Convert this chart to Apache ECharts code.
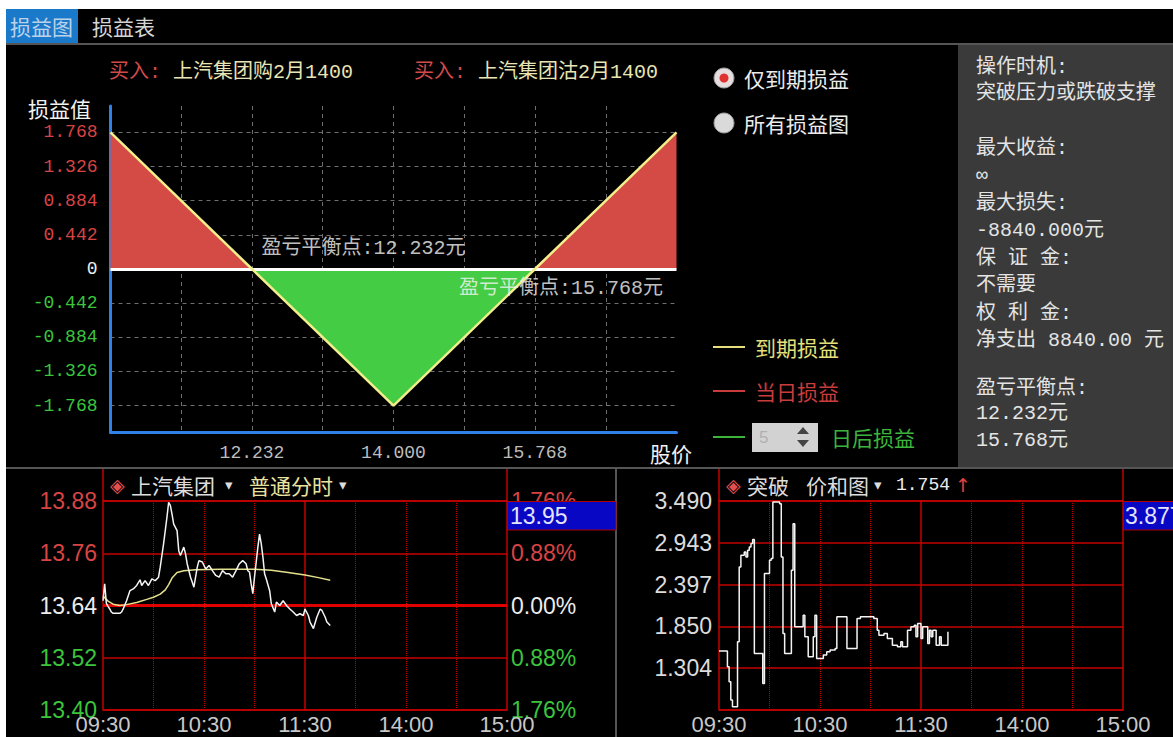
<!DOCTYPE html>
<html>
<head>
<meta charset="utf-8">
<script src="https://cdn.jsdelivr.net/npm/echarts@6.0.0/dist/echarts.min.js"></script>
<style>
html,body{margin:0;padding:0;background:#000;overflow:hidden;}
#c{position:absolute;left:0;top:0;width:1173px;height:737px;}
</style>
</head>
<body>
<div id="c"></div>
<script>
// ================= DATA =================
const payoffLegs = ['上汽集团购2月1400', '上汽集团沽2月1400'];
const payoffPrices = [10.464, 12.232, 14.000, 15.768, 17.536];
const payoffValues = [1.768, 0, -1.768, 0, 1.768];
const breakEvenPrices = [12.232, 15.768];
const payoffYTicks = [-1.768, -1.326, -0.884, -0.442, 0, 0.442, 0.884, 1.326, 1.768];
const payoffXGridTicks = [11.348, 12.232, 13.116, 14.000, 14.884, 15.768, 16.652];
const payoffXLabelTicks = [12.232, 14.000, 15.768];

const panelLines = ['操作时机:', '突破压力或跌破支撑', '最大收益:', '∞', '最大损失:', '-8840.000元',
  '保 证 金:', '不需要', '权 利 金:', '净支出 8840.00 元', '盈亏平衡点:', '12.232元', '15.768元'];

const timeLabelTicks = [0, 60, 120, 180, 240];
const timeLabels = ['09:30', '10:30', '11:30', '14:00', '15:00'];
const timeGridTicks = [30, 60, 90, 150, 180, 210];
const lunchBreakMinute = 120;

// [minute since 09:30, price]
const stockTicks = [
  [0,13.651],[1,13.690],[2,13.645],[3,13.638],[4,13.632],[5,13.625],[6,13.622],[8,13.622],[10,13.622],[11,13.625],
  [12,13.632],[14,13.651],[16,13.674],[18,13.678],[20,13.686],[22,13.699],[23,13.686],[25,13.697],[27,13.686],[29,13.701],
  [31,13.697],[33,13.705],[34,13.728],[36,13.782],[38,13.843],[39,13.877],[40,13.870],[41,13.850],[42,13.827],[44,13.812],
  [45,13.766],[46,13.755],[48,13.774],[49,13.759],[50,13.736],[52,13.705],[53,13.694],[54,13.682],[56,13.728],[57,13.743],
  [59,13.740],[61,13.724],[63,13.732],[65,13.720],[67,13.709],[69,13.705],[71,13.720],[73,13.713],[75,13.713],[77,13.705],
  [79,13.720],[81,13.736],[83,13.743],[85,13.736],[86,13.720],[87,13.717],[88,13.690],[89,13.667],[90,13.705],[92,13.774],
  [93,13.804],[94,13.782],[95,13.751],[96,13.713],[97,13.701],[99,13.674],[100,13.644],[102,13.625],[103,13.648],[105,13.640],
  [107,13.651],[109,13.640],[111,13.632],[113,13.625],[115,13.617],[117,13.621],[119,13.617],[120,13.632],[122,13.617],[123,13.602],
  [125,13.587],[127,13.613],[129,13.632],[130,13.629],[132,13.613],[133,13.602],[135,13.594]
];
const stockAvgTicks = [
  [0,13.662],[3,13.650],[6,13.643],[10,13.640],[14,13.642],[20,13.647],[26,13.654],[30,13.659],[34,13.666],[37,13.676],
  [39,13.688],[41,13.703],[44,13.716],[48,13.720],[55,13.722],[70,13.723],[90,13.723],[100,13.721],[110,13.716],[120,13.710],
  [128,13.704],[135,13.698]
];
const stockPriceTicks = [13.40, 13.52, 13.64, 13.76, 13.88];
const stockPctLabels = ['1.76%', '0.88%', '0.00%', '0.88%', '1.76%'];
const prevClose = 13.64;
const stockName = '上汽集团';
const stockChartType = '普通分时';
const stockCursorPrice = '13.95';

// [minute since 09:30, value]
const spreadTicks = [
  [0,1.527],[5,1.322],[6,1.126],[7,0.887],[8,0.800],[11,1.649],[12,2.628],[13,2.780],[15,2.824],[16,2.759],
  [17,2.846],[18,2.889],[19,2.933],[20,2.985],[21,1.496],[26,1.105],[27,2.541],[30,2.715],[31,2.737],[32,3.477],
  [36,3.455],[37,2.759],[38,1.757],[39,1.496],[43,2.585],[44,3.194],[45,1.845],[50,1.997],[51,1.714],[53,1.453],
  [56,1.714],[57,1.997],[58,1.431],[62,1.475],[64,1.518],[66,1.540],[69,1.562],[70,1.975],[76,1.562],[82,1.953],
  [84,1.975],[92,1.953],[94,1.801],[95,1.736],[98,1.757],[100,1.692],[103,1.605],[106,1.583],[108,1.649],[109,1.583],
  [112,1.801],[114,1.845],[116,1.866],[117,1.714],[118,1.888],[120,1.692],[121,1.845],[124,1.627],[125,1.801],[126,1.714],
  [127,1.801],[129,1.605],[131,1.714],[132,1.605],[136,1.779]
];
const spreadGridTicks = [0.757, 1.304, 1.850, 2.397, 2.943, 3.490];
const spreadLabelTicks = [1.304, 1.850, 2.397, 2.943, 3.490];
const spreadName = '突破';
const spreadChartType = '价和图';
const spreadLast = '1.754';
const spreadCursor = '3.877';

// ================= STYLE =================
const FONT_CJK = '"Noto Sans CJK SC"';
const FONT_MONO = '"Liberation Mono", "Noto Sans CJK SC"';
const FONT_SANS = '"Liberation Sans", Arial, sans-serif';
const RED_TXT = '#d84444', GREEN_TXT = '#3cc43c', WHITE_TXT = '#ececec';
const GRID_RED = '#c40000';
const AXIS_BLUE = '#2f80e8';
const GRAY_SEP = '#555555';

function near(a, b) { return Math.abs(a - b) < 1e-6; }
function idxOf(arr, v) { for (let i = 0; i < arr.length; i++) if (near(arr[i], v)) return i; return -1; }

function txt(text, x, y, color, size, family, align, z) {
  return { type: 'text', x: x, y: y, z: z || 50, silent: true,
    style: { text: text, fill: color, font: size + 'px ' + (family || FONT_CJK),
      align: align || 'left', verticalAlign: 'middle', textAlign: align || 'left', textVerticalAlign: 'middle' } };
}
function rect(x, y, w, h, fill, z, stroke) {
  return { type: 'rect', z: z || 1, silent: true, shape: { x: x, y: y, width: w, height: h },
    style: { fill: fill, stroke: stroke || null, lineWidth: stroke ? 1 : 0 } };
}
function line(x1, y1, x2, y2, color, w, z) {
  return { type: 'line', z: z || 5, silent: true, shape: { x1: x1, y1: y1, x2: x2, y2: y2 },
    style: { stroke: color, lineWidth: w || 1 } };
}

// ================= GRAPHIC (frame, panels, texts) =================
const panelY = [67, 93, 148, 175, 203, 230, 258, 285, 313, 340, 388, 413, 440];
const graphics = [
  rect(0, 0, 1173, 9, '#ffffff', 100),
  rect(0, 0, 6, 737, '#ffffff', 100),
  rect(6, 9, 72, 34, '#1b79c9', 2),
  txt('损益图', 10, 26, '#bcd2ea', 21),
  txt('损益表', 92, 26, '#d4d4d4', 21),
  line(6, 44, 1173, 44, GRAY_SEP, 2),
  rect(958, 45, 215, 422, '#3a3a3a', 1),
  line(6, 468, 1173, 468, GRAY_SEP, 2),
  line(616, 469, 616, 737, GRAY_SEP, 2),
  // payoff titles
  txt('买入:', 109, 72, '#d24a4a', 20, FONT_MONO),
  txt(payoffLegs[0], 173, 72, '#e9e4b4', 20, FONT_MONO),
  txt('买入:', 414, 72, '#d24a4a', 20, FONT_MONO),
  txt(payoffLegs[1], 478, 72, '#e9e4b4', 20, FONT_MONO),
  txt('损益值', 28, 108, '#f2f2f2', 21),
  txt('股价', 650, 453, '#f2f2f2', 21),
  // radio buttons
  { type: 'circle', z: 20, silent: true, shape: { cx: 724, cy: 78, r: 10 }, style: { fill: '#e6dede', stroke: '#9a9a9a', lineWidth: 1 } },
  { type: 'circle', z: 21, silent: true, shape: { cx: 724, cy: 78, r: 4.5 }, style: { fill: '#e03030' } },
  txt('仅到期损益', 744, 78, '#ececec', 21),
  { type: 'circle', z: 20, silent: true, shape: { cx: 724, cy: 123, r: 10 }, style: { fill: '#dadada', stroke: '#9a9a9a', lineWidth: 1 } },
  txt('所有损益图', 744, 123, '#ececec', 21),
  // legend
  line(713, 347, 745, 347, '#e6e07c', 2),
  txt('到期损益', 755, 347, '#e6e07c', 21),
  line(713, 391, 745, 391, '#c83c3c', 2),
  txt('当日损益', 755, 391, '#c83c3c', 21),
  line(713, 437, 745, 437, '#3cb43c', 2),
  rect(752, 423, 66, 29, '#d2d2d2', 20),
  txt('5', 759, 437, '#b0b0b0', 17, FONT_SANS),
  { type: 'polygon', z: 22, silent: true, shape: { points: [[797, 434], [809, 434], [803, 427]] }, style: { fill: '#444' } },
  { type: 'polygon', z: 22, silent: true, shape: { points: [[797, 440], [809, 440], [803, 447]] }, style: { fill: '#444' } },
  txt('日后损益', 831, 437, '#3cb43c', 21),
  // bottom-left header
  txt('◈', 110, 485, '#e05050', 19, '"DejaVu Sans"'),
  txt(stockName, 131, 485, '#dcdcdc', 21),
  txt('▾', 225, 485, '#dcdcdc', 15, '"DejaVu Sans"'),
  txt(stockChartType, 249, 485, '#e8e4a0', 21),
  txt('▾', 339, 485, '#dcdcdc', 15, '"DejaVu Sans"'),
  // bottom-right header
  txt('◈', 726, 485, '#e05050', 19, '"DejaVu Sans"'),
  txt(spreadName, 747, 485, '#dcdcdc', 21),
  txt(spreadChartType, 806, 485, '#dcdcdc', 21),
  txt('▾', 874, 485, '#dcdcdc', 15, '"DejaVu Sans"'),
  txt(spreadLast, 896, 485, '#ececec', 18, FONT_MONO),
  txt('↑', 955, 485, '#e04040', 19, '"DejaVu Sans"'),
  // frame extensions of bottom charts
  line(103, 469, 103, 501, GRID_RED, 1.5),
  line(507, 469, 507, 501, GRID_RED, 1.5),
  line(719, 469, 719, 501, GRID_RED, 1.5),
  line(1123, 469, 1123, 501, GRID_RED, 1.5),
  // cursor price boxes
  rect(507.5, 501.5, 108.5, 28.5, '#0707c4', 60, '#b00000'),
  txt(stockCursorPrice, 510, 516, '#e4e4ff', 23, FONT_SANS, 'left', 61),
  rect(1123.5, 501.5, 50, 28.5, '#0707c4', 60, '#b00000'),
  txt(spreadCursor, 1125, 516, '#e4e4ff', 23, FONT_SANS, 'left', 61)
];
panelLines.forEach(function (s, i) { graphics.push(txt(s, 976, panelY[i], '#e4e4e4', 20, FONT_MONO)); });

// ================= CHART =================
const chart = echarts.init(document.getElementById('c'), null, { renderer: 'svg', width: 1173, height: 737 });

const payoffData = payoffPrices.map(function (p, i) { return [p, payoffValues[i]]; });
// profit part (>= 0) and loss part (<= 0) of the same curve; it crosses zero exactly at data points
const profitData = payoffPrices.map(function (p, i) { return [p, Math.max(payoffValues[i], 0)]; });
const lossData = payoffPrices.map(function (p, i) { return [p, Math.min(payoffValues[i], 0)]; });

function signRich(text, v, ref) {
  if (v > ref + 1e-9) return '{r|' + text + '}';
  if (v < ref - 1e-9) return '{g|' + text + '}';
  return '{w|' + text + '}';
}
function richSet(size, family) {
  return {
    r: { color: RED_TXT, fontSize: size, fontFamily: family },
    g: { color: GREEN_TXT, fontSize: size, fontFamily: family },
    w: { color: WHITE_TXT, fontSize: size, fontFamily: family }
  };
}

const option = {
  backgroundColor: '#000000',
  animation: false,
  graphic: { elements: graphics },
  grid: [
    { left: 110.5, top: 106, width: 566, height: 326, show: false, containLabel: false, outerBoundsMode: 'none' },
    { left: 103, top: 501, width: 404, height: 209, show: true, borderColor: GRID_RED, borderWidth: 1.5, backgroundColor: 'transparent', containLabel: false, outerBoundsMode: 'none' },
    { left: 719, top: 501, width: 404, height: 209, show: true, borderColor: GRID_RED, borderWidth: 1.5, backgroundColor: 'transparent', containLabel: false, outerBoundsMode: 'none' }
  ],
  xAxis: [
    { type: 'value', gridIndex: 0, min: payoffPrices[0], max: payoffPrices[payoffPrices.length - 1],
      axisLine: { show: true, onZero: false, lineStyle: { color: AXIS_BLUE, width: 3 } },
      axisTick: { show: false, customValues: payoffXGridTicks },
      splitLine: { show: true, lineStyle: { color: '#707070', type: [4, 4], width: 1 } },
      axisLabel: { customValues: payoffXLabelTicks, formatter: function (v) { return v.toFixed(3); },
        color: '#bdbdbd', fontSize: 18, fontFamily: FONT_MONO, margin: 12 } },
    { type: 'value', gridIndex: 1, min: 0, max: 240,
      axisLine: { show: false }, axisTick: { show: false, customValues: timeGridTicks },
      splitLine: { show: true, lineStyle: { color: GRID_RED, type: 'dotted', width: 1 } },
      axisLabel: { customValues: timeLabelTicks, formatter: function (v) { return timeLabels[idxOf(timeLabelTicks, v)]; },
        color: '#c8c8c8', fontSize: 22, lineHeight: 22, fontFamily: FONT_SANS, margin: 3 } },
    { type: 'value', gridIndex: 2, min: 0, max: 240,
      axisLine: { show: false }, axisTick: { show: false, customValues: timeGridTicks },
      splitLine: { show: true, lineStyle: { color: GRID_RED, type: 'dotted', width: 1 } },
      axisLabel: { customValues: timeLabelTicks, formatter: function (v) { return timeLabels[idxOf(timeLabelTicks, v)]; },
        color: '#c8c8c8', fontSize: 22, lineHeight: 22, fontFamily: FONT_SANS, margin: 3 } }
  ],
  yAxis: [
    { type: 'value', gridIndex: 0, min: -2.11, max: 2.11,
      axisLine: { show: true, onZero: false, lineStyle: { color: AXIS_BLUE, width: 3 } },
      axisTick: { show: false, customValues: payoffYTicks },
      splitLine: { show: true, lineStyle: { color: '#707070', type: [4, 4], width: 1 } },
      axisLabel: { customValues: payoffYTicks, margin: 13, fontSize: 18, fontFamily: FONT_MONO,
        formatter: function (v) { return signRich(near(v, 0) ? '0' : v.toFixed(3), v, 0); },
        rich: richSet(18, FONT_MONO) } },
    { type: 'value', gridIndex: 1, min: stockPriceTicks[0], max: stockPriceTicks[stockPriceTicks.length - 1], position: 'left',
      axisLine: { show: false }, axisTick: { show: false, customValues: stockPriceTicks },
      splitLine: { show: true, lineStyle: { color: GRID_RED, width: 1.5 } },
      axisLabel: { customValues: stockPriceTicks, margin: 6, fontSize: 23, fontFamily: FONT_SANS,
        formatter: function (v) { return signRich(v.toFixed(2), v, prevClose); },
        rich: richSet(23, FONT_SANS) } },
    { type: 'value', gridIndex: 1, min: stockPriceTicks[0], max: stockPriceTicks[stockPriceTicks.length - 1], position: 'right',
      axisLine: { show: false }, axisTick: { show: false, customValues: stockPriceTicks },
      splitLine: { show: false },
      axisLabel: { customValues: stockPriceTicks, margin: 4, fontSize: 23, fontFamily: FONT_SANS,
        formatter: function (v) { return signRich(stockPctLabels[stockPctLabels.length - 1 - idxOf(stockPriceTicks, v)], v, prevClose); },
        rich: richSet(23, FONT_SANS) } },
    { type: 'value', gridIndex: 2, min: spreadGridTicks[0], max: spreadGridTicks[spreadGridTicks.length - 1],
      axisLine: { show: false }, axisTick: { show: false, customValues: spreadGridTicks },
      splitLine: { show: true, lineStyle: { color: GRID_RED, width: 1.5 } },
      axisLabel: { customValues: spreadLabelTicks, margin: 7, fontSize: 23, fontFamily: FONT_SANS, color: '#dcdcdc',
        formatter: function (v) { return v.toFixed(3); } } }
  ],
  series: [
    { name: '盈利区', type: 'line', xAxisIndex: 0, yAxisIndex: 0, data: profitData, symbol: 'none', silent: true,
      lineStyle: { width: 0 }, areaStyle: { color: '#d44a44', opacity: 1 }, z: 2 },
    { name: '亏损区', type: 'line', xAxisIndex: 0, yAxisIndex: 0, data: lossData, symbol: 'none', silent: true,
      lineStyle: { width: 0 }, areaStyle: { color: '#44cc44', opacity: 1 }, z: 2,
      markLine: { symbol: 'none', silent: true, z: 5, label: { show: false },
        lineStyle: { color: '#ffffff', width: 3, type: 'solid' }, data: [{ yAxis: 0 }] } },
    { name: '到期损益', type: 'line', xAxisIndex: 0, yAxisIndex: 0, data: payoffData, symbol: 'none', silent: true,
      lineStyle: { color: '#f2ee8a', width: 2.5 }, z: 6 },
    { name: '盈亏平衡点', type: 'scatter', xAxisIndex: 0, yAxisIndex: 0, silent: true, symbolSize: 1,
      itemStyle: { color: 'rgba(0,0,0,0)' }, z: 7,
      data: breakEvenPrices.map(function (p, i) {
        return { value: [p, 0], label: i === 0 ? { position: 'right', offset: [4, -21] } : { position: 'bottom', offset: [26, 4] } };
      }),
      label: { show: true, color: '#f4f4f4', fontSize: 20, fontFamily: FONT_MONO,
        formatter: function (p) { return '盈亏平衡点:' + p.value[0].toFixed(3) + '元'; } } },
    { name: '分时', type: 'line', xAxisIndex: 1, yAxisIndex: 1, data: stockTicks, symbol: 'none', silent: true,
      lineStyle: { color: '#f4f4f4', width: 1.5 }, z: 10,
      markLine: { symbol: 'none', silent: true, z: 5, label: { show: false },
        data: [
          { yAxis: prevClose, lineStyle: { color: '#e00000', width: 3, type: 'solid' } },
          { xAxis: lunchBreakMinute, lineStyle: { color: GRID_RED, width: 1.5, type: 'solid' } }
        ] } },
    { name: '均价', type: 'line', xAxisIndex: 1, yAxisIndex: 1, data: stockAvgTicks, symbol: 'none', silent: true,
      lineStyle: { color: '#e4e08c', width: 1.5 }, z: 9 },
    { name: '价和', type: 'line', xAxisIndex: 2, yAxisIndex: 3, data: spreadTicks, step: 'end', symbol: 'none', silent: true,
      lineStyle: { color: '#f4f4f4', width: 1.5 }, z: 10,
      markLine: { symbol: 'none', silent: true, z: 5, label: { show: false },
        data: [{ xAxis: lunchBreakMinute, lineStyle: { color: GRID_RED, width: 1.5, type: 'solid' } }] } }
  ]
};
chart.setOption(option);
</script>
</body>
</html>
